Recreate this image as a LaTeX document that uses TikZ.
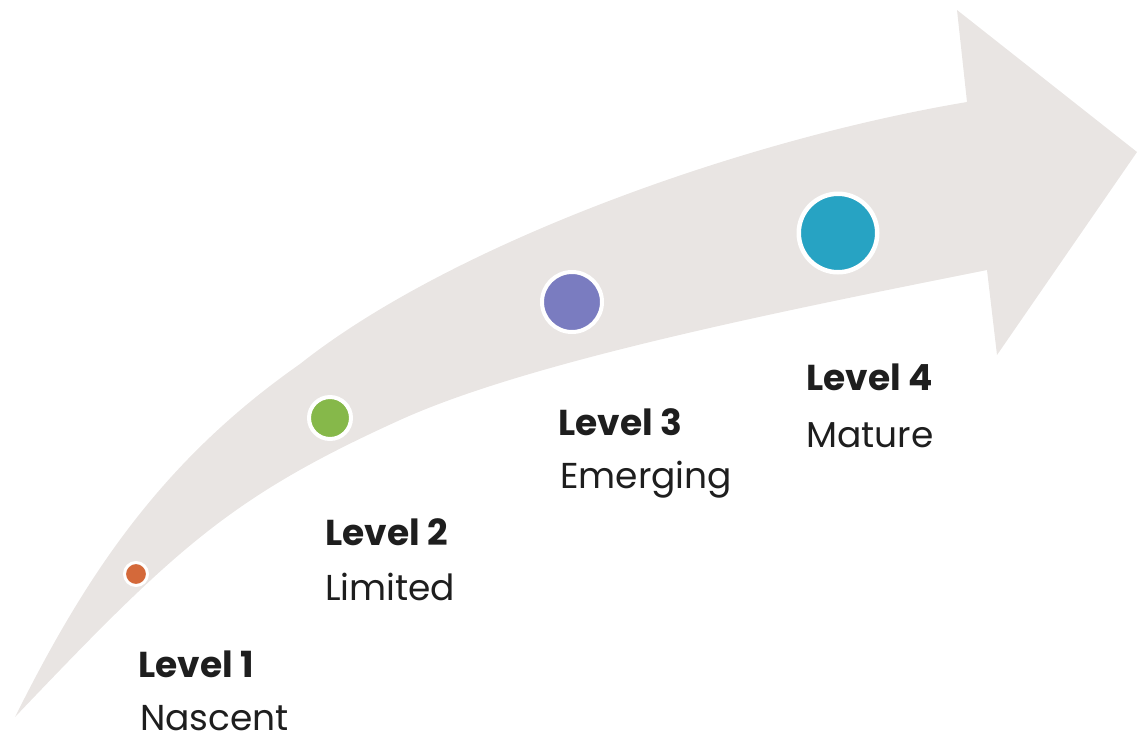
\documentclass[tikz,border=0pt]{standalone}
\usepackage{fontspec}
\setmainfont{Poppins}

\definecolor{bandgray}{RGB}{233,229,227}
\definecolor{dotorange}{RGB}{212,105,58}
\definecolor{dotgreen}{RGB}{134,184,74}
\definecolor{dotpurple}{RGB}{122,124,192}
\definecolor{dotteal}{RGB}{39,163,195}
\definecolor{labelink}{RGB}{30,30,30}

\begin{document}
\begin{tikzpicture}[x=1pt,y=-1pt,
  dot/.style={circle, draw=white, inner sep=0pt, outer sep=0pt},
  leveltitle/.style={anchor=base west, inner sep=0pt, text=labelink,
    font=\fontsize{36}{40}\selectfont\bfseries},
  levelname/.style={anchor=base west, inner sep=0pt, text=labelink,
    font=\fontsize{36}{40}\selectfont}]

\useasboundingbox (0,0) rectangle (1137,737);

% curved progress arrow: upper edge, head, lower edge back to the tail
\fill[bandgray]
  (15,717) .. controls (85,577) and (160,462) .. (300,364)
           .. controls (450,245) and (740,140) .. (967,102)
  -- (957,10) -- (1137,152) -- (997,355) -- (987,270)
           .. controls (787,310) and (530,361) .. (400,420)
           .. controls (230,497) and (175,549) .. (15,717)
  -- cycle;

% level markers
\node[dot, fill=dotorange, line width=3pt, minimum size=23pt] (d1) at (136,574) {};
\node[dot, fill=dotgreen, line width=4pt, minimum size=42pt] (d2) at (330,418) {};
\node[dot, fill=dotpurple, line width=4pt, minimum size=60pt] (d3) at (572,302) {};
\node[dot, fill=dotteal, line width=4.5pt, minimum size=78.5pt] (d4) at (838,233) {};

% level labels
\node[leveltitle] (t1) at (138,677) {Level 1};
\node[levelname]  (n1) at (140,730) {Nascent};
\node[leveltitle] (t2) at (325,545) {Level 2};
\node[levelname]  (n2) at (325,600) {Limited};
\node[leveltitle] (t3) at (558,435) {Level 3};
\node[levelname]  (n3) at (560,488) {Emerging};
\node[leveltitle] (t4) at (806,390) {Level 4};
\node[levelname]  (n4) at (806,447) {Mature};

\end{tikzpicture}
\end{document}
